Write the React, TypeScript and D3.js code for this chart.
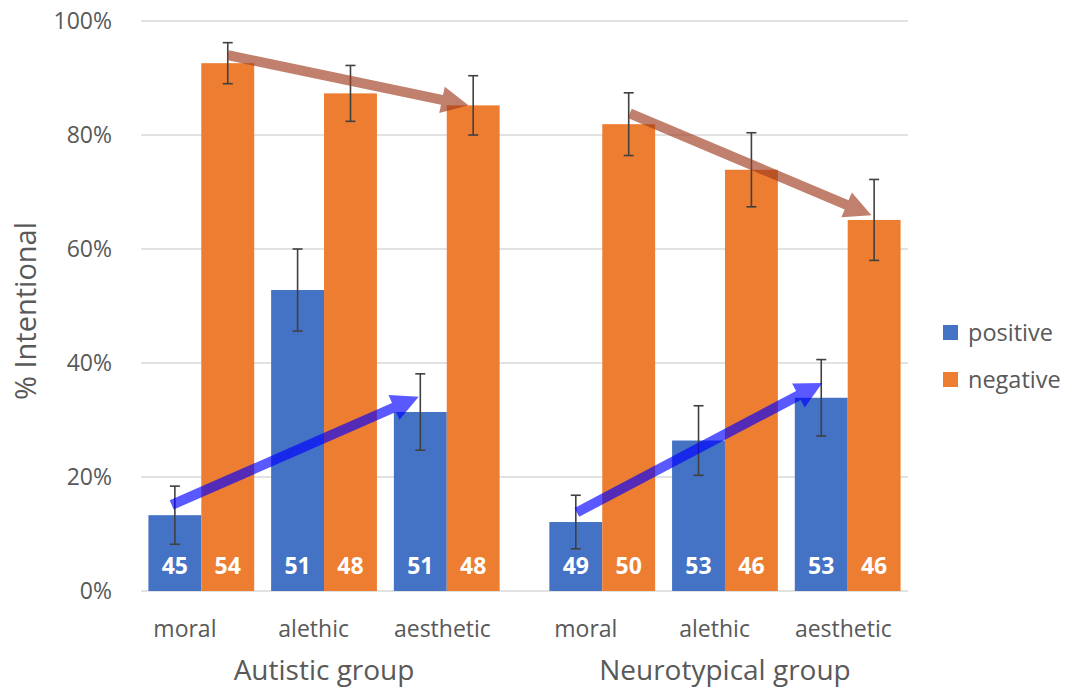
import React from "react";
import * as d3 from "d3";

// Study design
const groups = ["Autistic group", "Neurotypical group"];
const categories = ["moral", "alethic", "aesthetic"];
const seriesNames = ["positive", "negative"];

// % judged intentional, per category (moral, alethic, aesthetic)
const autisticPositive = [13.3, 52.8, 31.4];
const autisticNegative = [92.6, 87.3, 85.2];
const neurotypicalPositive = [12.1, 26.4, 33.9];
const neurotypicalNegative = [81.9, 73.9, 65.1];

// Error bar half-widths (percentage points)
const autisticPositiveErr = [5.1, 7.2, 6.7];
const autisticNegativeErr = [3.6, 4.9, 5.2];
const neurotypicalPositiveErr = [4.7, 6.1, 6.7];
const neurotypicalNegativeErr = [5.5, 6.5, 7.1];

// Number of participants in each cell
const autisticPositiveN = [45, 51, 51];
const autisticNegativeN = [54, 48, 48];
const neurotypicalPositiveN = [49, 53, 53];
const neurotypicalNegativeN = [50, 46, 46];

const yTicks = [0, 20, 40, 60, 80, 100];

// Trend arrows: start/end anchored on a bar (category, fraction across bar, value)
const trendArrows = [
  { group: "Autistic group", series: "negative", from: ["moral", 0.5, 94.0], to: ["aesthetic", 0.41, 85.2], color: "rgb(160,60,30)" },
  { group: "Neurotypical group", series: "negative", from: ["moral", 0.52, 83.8], to: ["aesthetic", 0.45, 65.9], color: "rgb(160,60,30)" },
  { group: "Autistic group", series: "positive", from: ["moral", 0.44, 15.1], to: ["aesthetic", 0.47, 34.1], color: "rgb(0,0,255)" },
  { group: "Neurotypical group", series: "positive", from: ["moral", 0.52, 13.8], to: ["aesthetic", 0.52, 36.5], color: "rgb(0,0,255)" },
];

const W = 1067;
const H = 689;
const FONT = "'Open Sans', 'Noto Sans', sans-serif";
const TEXT = "#595959";
const colors: Record<string, string> = { positive: "#4472C4", negative: "#ED7D31" };

const plot = { left: 141, right: 908, top: 21, bottom: 591 };

type Cell = { group: string; cat: string; series: string; value: number; err: number; n: number };

function buildCells(): Cell[] {
  const table: Record<string, Record<string, [number[], number[], number[]]>> = {
    "Autistic group": {
      positive: [autisticPositive, autisticPositiveErr, autisticPositiveN],
      negative: [autisticNegative, autisticNegativeErr, autisticNegativeN],
    },
    "Neurotypical group": {
      positive: [neurotypicalPositive, neurotypicalPositiveErr, neurotypicalPositiveN],
      negative: [neurotypicalNegative, neurotypicalNegativeErr, neurotypicalNegativeN],
    },
  };
  const out: Cell[] = [];
  groups.forEach((g) =>
    seriesNames.forEach((s) =>
      categories.forEach((c, i) => {
        const [v, e, n] = table[g][s];
        out.push({ group: g, cat: c, series: s, value: v[i], err: e[i], n: n[i] });
      })
    )
  );
  return out;
}

function arrowPath(x1: number, y1: number, x2: number, y2: number, shaft = 10, headW = 27, headL = 27) {
  const dx = x2 - x1;
  const dy = y2 - y1;
  const len = Math.hypot(dx, dy);
  const ux = dx / len, uy = dy / len;
  const nx = -uy, ny = ux;
  const bx = x2 - ux * headL, by = y2 - uy * headL;
  const pts: [number, number][] = [
    [x1 + (nx * shaft) / 2, y1 + (ny * shaft) / 2],
    [bx + (nx * shaft) / 2, by + (ny * shaft) / 2],
    [bx + (nx * headW) / 2, by + (ny * headW) / 2],
    [x2, y2],
    [bx - (nx * headW) / 2, by - (ny * headW) / 2],
    [bx - (nx * shaft) / 2, by - (ny * shaft) / 2],
    [x1 - (nx * shaft) / 2, y1 - (ny * shaft) / 2],
  ];
  return (d3.line()(pts) || "") + "Z";
}

export default function App() {
  const cells = buildCells();

  const y = d3.scaleLinear().domain([0, 100]).range([plot.bottom, plot.top]);
  const gx = d3.scaleBand<string>().domain(groups).range([plot.left, plot.right]).paddingInner(0.124).paddingOuter(0.0185);
  const cx = d3.scaleBand<string>().domain(categories).range([0, gx.bandwidth()]).paddingInner(0.138);
  const sx = d3.scaleBand<string>().domain(seriesNames).range([0, cx.bandwidth()]);
  const labelX = d3.scalePoint<string>().domain(categories).range([36.5, 294]);

  const barX = (g: string, c: string, s: string) => (gx(g) ?? 0) + (cx(c) ?? 0) + (sx(s) ?? 0);
  const fmt = (v: number) => d3.format(".0%")(v / 100);

  return (
    <div style={{ position: "absolute", left: 0, top: 0 }}>
      <svg width={W} height={H} style={{ display: "block", background: "#fff" }} fontFamily={FONT}>
        {/* gridlines and tick labels */}
        {yTicks.map((t) => (
          <g key={t}>
            <line x1={plot.left} x2={plot.right} y1={y(t)} y2={y(t)} stroke="#d9d9d9" strokeWidth={1.3} />
            <text x={112} y={y(t)} dy="0.36em" textAnchor="end" fontSize={23} fill={TEXT}>
              {fmt(t)}
            </text>
          </g>
        ))}

        {/* bars */}
        {cells.map((d) => (
          <rect
            key={`${d.group}-${d.cat}-${d.series}`}
            x={barX(d.group, d.cat, d.series)}
            y={y(d.value)}
            width={sx.bandwidth()}
            height={y(0) - y(d.value)}
            fill={colors[d.series]}
          />
        ))}

        {/* participant counts */}
        {cells.map((d) => (
          <text
            key={`n-${d.group}-${d.cat}-${d.series}`}
            x={barX(d.group, d.cat, d.series) + sx.bandwidth() / 2}
            y={y(0) - 17}
            textAnchor="middle"
            fontSize={23}
            fontWeight={700}
            fill="#fff"
          >
            {d.n}
          </text>
        ))}

        {/* error bars */}
        {cells.map((d) => {
          const xm = barX(d.group, d.cat, d.series) + sx.bandwidth() / 2;
          const y1 = y(d.value + d.err);
          const y2 = y(d.value - d.err);
          return (
            <g key={`e-${d.group}-${d.cat}-${d.series}`} stroke="#404040" strokeWidth={1.6}>
              <line x1={xm} x2={xm} y1={y1} y2={y2} />
              <line x1={xm - 5} x2={xm + 5} y1={y1} y2={y1} />
              <line x1={xm - 5} x2={xm + 5} y1={y2} y2={y2} />
            </g>
          );
        })}

        {/* trend arrows */}
        {trendArrows.map((a, i) => {
          const x1 = barX(a.group, a.from[0] as string, a.series) + sx.bandwidth() * (a.from[1] as number);
          const x2 = barX(a.group, a.to[0] as string, a.series) + sx.bandwidth() * (a.to[1] as number);
          return (
            <path
              key={i}
              d={arrowPath(x1, y(a.from[2] as number), x2, y(a.to[2] as number))}
              fill={a.color}
              fillOpacity={0.65}
            />
          );
        })}

        {/* category labels */}
        {groups.map((g) =>
          categories.map((c) => (
            <text
              key={`c-${g}-${c}`}
              x={(gx(g) ?? 0) + (labelX(c) ?? 0)}
              y={637}
              textAnchor="middle"
              fontSize={23}
              fill={TEXT}
            >
              {c}
            </text>
          ))
        )}

        {/* group labels */}
        {groups.map((g) => (
          <text key={`g-${g}`} x={(gx(g) ?? 0) + gx.bandwidth() / 2} y={680} textAnchor="middle" fontSize={28} fill={TEXT}>
            {g}
          </text>
        ))}

        {/* y-axis title */}
        <text transform={`translate(36,${(plot.top + plot.bottom) / 2 + 5}) rotate(-90)`} textAnchor="middle" fontSize={29} fill={TEXT}>
          % Intentional
        </text>

        {/* legend */}
        {seriesNames.map((s, i) => (
          <g key={`l-${s}`} transform={`translate(943,${325 + i * 47})`}>
            <rect width={15} height={15} fill={colors[s]} />
            <text x={25} y={16} fontSize={23.5} fill={TEXT}>
              {s}
            </text>
          </g>
        ))}
      </svg>
    </div>
  );
}
